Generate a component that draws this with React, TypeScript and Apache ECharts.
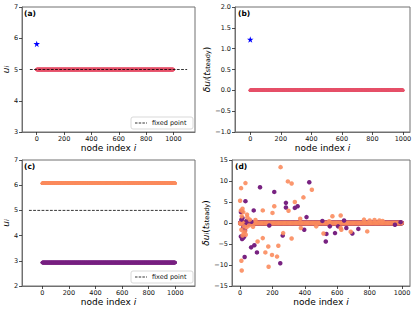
import React, { useEffect, useRef } from "react";
import * as echarts from "echarts";

// ---------- data ----------
const nodeCount = 1000;
const xTickValues = [0, 200, 400, 600, 800, 1000];

// panel (a)
const yTicksA = [3, 4, 5, 6, 7];
const fixedPointValue = 5;
const fixedLineXA = [-50, 1100];
const steadyValueA = 5.0;
const perturbedA: [number, number][] = [[0, 5.82]];

// panel (b)
const yTicksB = [-1, -0.5, 0, 0.5, 1, 1.5, 2];
const steadyValueB = 0.0;
const perturbedB: [number, number][] = [[0, 1.22]];

// panel (c)
const yTicksC = [2, 3, 4, 5, 6, 7];
const fixedLineXC = [-100, 1100];
const steadyUpperC = 6.08;
const steadyLowerC = 2.93;

// panel (d)
const yTicksD = [-15, -10, -5, 0, 5, 10, 15];
const steadyBandD = 0.0;
const deviationsOrangeD: [number, number][] = [
  [0, 5.3], [6, 8.3], [33, 9.5], [8, -9.0], [10, -11.3], [5, 3.0], [15, 3.4], [20, 2.6],
  [10, 1.6], [2, -0.2], [8, -1.6], [15, -3.0], [22, -2.4], [25, -0.8], [30, -2.0],
  [35, -2.8], [40, -1.0], [45, 1.3], [55, -0.6], [60, 0.8], [43, 2.0], [80, -0.9],
  [95, 0.7], [108, -4.4], [140, 3.0], [140, -3.6], [156, -7.0], [176, -10.4],
  [174, -5.6], [200, 2.4], [197, -7.6], [211, 4.0], [228, -8.0], [236, -5.4],
  [250, 13.3], [266, -2.4], [295, 9.9], [318, 9.4], [299, 2.9], [318, -3.7],
  [338, 5.0], [391, 6.1], [443, 7.9], [371, 1.0], [375, -1.2], [470, -0.8],
  [515, -2.5], [550, 0.4], [570, 1.6], [621, 1.8], [625, -1.6], [621, -1.2],
  [683, -2.1], [765, 0.8], [785, -2.0], [800, 0.6], [830, 0.7], [860, 0.6], [880, 0.5],
];
const deviationsPurpleD: [number, number][] = [
  [5, 2.6], [10, 2.8], [15, 1.2], [20, -1.0], [5, -3.2], [12, -3.8], [18, -3.6],
  [25, -3.3], [30, -1.8], [8, 0.8], [35, -0.5], [40, 0.5], [50, -0.3], [70, 0.3],
  [33, 5.2], [123, 8.5], [211, 7.4], [28, -8.1], [68, -5.8], [88, -5.3], [104, -7.0],
  [84, 3.0], [180, -0.6], [248, -9.6], [263, -3.0], [283, 4.8], [283, 3.7], [338, 3.6],
  [355, 4.0], [410, 1.4], [396, -1.6], [427, 9.7], [508, 0.5], [529, -4.4],
  [533, -2.6], [554, -0.8], [586, -2.4], [605, -0.8], [642, 0.6], [656, -1.2],
  [693, -2.5], [730, -1.4], [956, -0.4], [991, 0.2],
];

// ---------- styling ----------
const FONT = "DejaVu Sans";
const RED = "#e6526a";
const ORANGE = "#fb8c5e";
const PURPLE = "#782281";
const SPINE = "#707070";
const STAR = "path://M0,-100 L22.45,-30.9 L95.1,-30.9 L36.3,11.8 L58.8,80.9 L0,38.2 L-58.8,80.9 L-36.3,11.8 L-95.1,-30.9 L-22.45,-30.9 Z";

const nodes = Array.from({ length: nodeCount }, (_, i) => i);
const flat = (v: number) => nodes.map((i) => [i, v]);
const minusFmt = (digits: number) => (v: number) => v.toFixed(digits).replace("-", "\u2212");

const richU = {
  it: { fontFamily: FONT, fontSize: 9, fontStyle: "italic", color: "#000" },
  sub: { fontFamily: FONT, fontSize: 6.5, fontStyle: "italic", color: "#000", verticalAlign: "bottom", lineHeight: 8 },
  n: { fontFamily: FONT, fontSize: 9, color: "#000" },
  subn: { fontFamily: FONT, fontSize: 6.5, color: "#000", verticalAlign: "bottom", lineHeight: 8 },
};

function xAxisFor(gridIndex: number, min: number, max: number) {
  return {
    type: "value",
    gridIndex,
    min,
    max,
    name: "{n|node index }{it|i}",
    nameLocation: "middle",
    nameGap: 11,
    nameTextStyle: { rich: richU },
    splitLine: { show: false },
    axisLine: { show: true, onZero: false, lineStyle: { color: SPINE, width: 1 } },
    axisTick: { show: true, length: 3, lineStyle: { color: "#222", width: 0.8 }, customValues: xTickValues },
    axisLabel: {
      fontFamily: FONT, fontSize: 6.5, color: "#111", margin: 3,
      customValues: xTickValues, formatter: (v: number) => String(v),
    },
  };
}

function yAxisFor(gridIndex: number, ticks: number[], name: string, nameGap: number, digits: number) {
  return {
    type: "value",
    gridIndex,
    min: ticks[0],
    max: ticks[ticks.length - 1],
    interval: ticks[1] - ticks[0],
    name,
    nameLocation: "middle",
    nameRotate: 90,
    nameGap,
    nameTextStyle: { rich: richU },
    splitLine: { show: false },
    axisLine: { show: true, onZero: false, lineStyle: { color: SPINE, width: 1 } },
    axisTick: { show: true, length: 3, lineStyle: { color: "#222", width: 0.8 } },
    axisLabel: {
      fontFamily: FONT, fontSize: 6.5, lineHeight: 7, color: "#111", margin: 4,
      showMinLabel: true, showMaxLabel: true,
      formatter: minusFmt(digits),
    },
  };
}

const nameU = "{it|u}{sub|i}";
const nameDU = "{it|\u03b4u}{sub|i}{n|(}{it|t}{subn|steady}{n|)}";

function legendBox(x: number, y: number) {
  return [
    { type: "rect", shape: { x, y, width: 62, height: 12, r: 2 }, style: { fill: "#fff", stroke: "#cfcfcf", lineWidth: 0.8 }, z: 100 },
    { type: "line", shape: { x1: x + 4, y1: y + 6, x2: x + 16, y2: y + 6 }, style: { stroke: "#000", lineWidth: 0.8, lineDash: [2.5, 1.2] }, z: 101 },
    { type: "text", x: x + 21, y: y + 6, style: { text: "fixed point", font: `6.5px "${FONT}"`, fill: "#111", textVerticalAlign: "middle" }, z: 101 },
  ];
}

function panelLabel(text: string, x: number, y: number) {
  return { type: "text", x, y, style: { text, font: `bold 7.5px "${FONT}"`, fill: "#000", textVerticalAlign: "middle" }, z: 100 };
}

export default function App() {
  const ref = useRef<HTMLDivElement>(null);
  useEffect(() => {
    if (!ref.current) return;
    const chart = echarts.init(ref.current, null, { renderer: "svg" });
    const gridStyle = { show: true, borderColor: SPINE, borderWidth: 1 };
    const scatter = (xi: number, data: any[], color: string, size: number, opacity = 1, z = 2) => ({
      type: "scatter",
      xAxisIndex: xi,
      yAxisIndex: xi,
      data,
      symbolSize: size,
      itemStyle: { color, opacity },
      z,
      silent: true,
    });
    const dashed = (xi: number, xs: number[]) => ({
      type: "line",
      xAxisIndex: xi,
      yAxisIndex: xi,
      data: xs.map((x) => [x, fixedPointValue]),
      symbol: "none",
      lineStyle: { color: "#000", width: 0.8, type: [2.8, 1.4] },
      z: 5,
      silent: true,
    });
    chart.setOption({
      animation: false,
      backgroundColor: "#fff",
      grid: [
        { left: 22, top: 7, width: 173, height: 125, ...gridStyle },
        { left: 235, top: 7, width: 175, height: 125, ...gridStyle },
        { left: 22, top: 160, width: 173, height: 126, ...gridStyle },
        { left: 232, top: 160, width: 178, height: 126, ...gridStyle },
      ],
      xAxis: [
        xAxisFor(0, -107.5, 1157.5),
        xAxisFor(1, -100, 1046),
        xAxisFor(2, -152, 1148),
        xAxisFor(3, -50, 1049),
      ],
      yAxis: [
        yAxisFor(0, yTicksA, nameU, 8, 0),
        yAxisFor(1, yTicksB, nameDU, 14, 1),
        yAxisFor(2, yTicksC, nameU, 8, 0),
        yAxisFor(3, yTicksD, nameDU, 10, 0),
      ],
      series: [
        scatter(0, flat(steadyValueA), RED, 3.5),
        dashed(0, fixedLineXA),
        { ...scatter(0, perturbedA, "#0000ff", 6.5, 1, 6), symbol: STAR },
        scatter(1, flat(steadyValueB), RED, 3.5),
        { ...scatter(1, perturbedB, "#0000ff", 6.5, 1, 6), symbol: STAR },
        scatter(2, flat(steadyUpperC), ORANGE, 3.5),
        scatter(2, flat(steadyLowerC), PURPLE, 3.5),
        dashed(2, fixedLineXC),
        scatter(3, flat(steadyBandD), PURPLE, 4.5),
        scatter(3, flat(steadyBandD), ORANGE, 4.5, 0.4),
        scatter(3, deviationsPurpleD, PURPLE, 4.5, 1, 3),
        scatter(3, deviationsOrangeD, ORANGE, 4.5, 0.9, 3),
      ],
      graphic: [
        panelLabel("(a)", 24, 13),
        panelLabel("(b)", 238, 13),
        panelLabel("(c)", 24, 166),
        panelLabel("(d)", 235, 166),
        ...legendBox(131, 117),
        ...legendBox(131, 271),
      ],
    });
    return () => chart.dispose();
  }, []);
  return <div ref={ref} style={{ position: "fixed", left: 0, top: 0, width: 415, height: 310, background: "#fff" }} />;
}
